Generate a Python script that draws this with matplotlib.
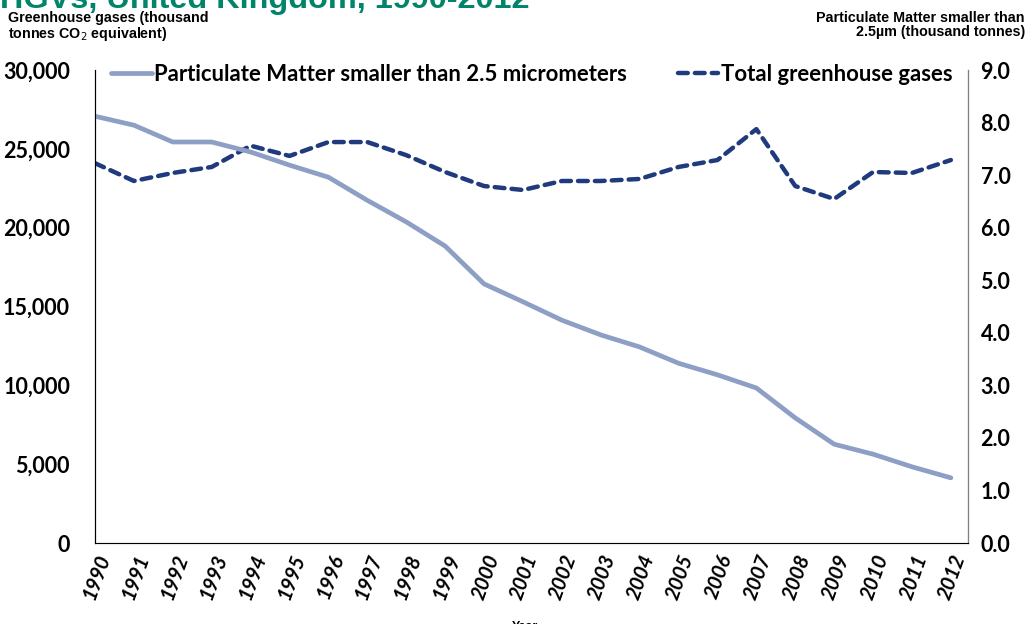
import numpy as np
import matplotlib
matplotlib.use("Agg")
import matplotlib.pyplot as plt
from matplotlib.ticker import FuncFormatter

years = list(range(1990, 2013))
ghg = [24090, 22960, 23470, 23850, 25200, 24550, 25430, 25430, 24600, 23530,
       22640, 22390, 22960, 22960, 23090, 23850, 24290, 26250, 22640, 21820,
       23530, 23470, 24290]
pm25 = [8.12, 7.95, 7.63, 7.63, 7.44, 7.19, 6.96, 6.52, 6.11, 5.65,
        4.93, 4.59, 4.24, 3.96, 3.73, 3.42, 3.20, 2.95, 2.38, 1.88,
        1.69, 1.45, 1.24]

PM_COLOR = "#8e9fc5"
GHG_COLOR = "#1f3b7d"
TICK_FONT = "Lato"

fig = plt.figure(figsize=(10.27, 6.24), dpi=100)
ax = fig.add_axes([95 / 1027, 1 - 543 / 624, (968 - 95) / 1027, (543 - 70) / 624])
ax2 = ax.twinx()

ax2.plot(years, pm25, color=PM_COLOR, lw=3.4, solid_capstyle="round",
         label="Particulate Matter smaller than 2.5 micrometers")
ax.plot(years, ghg, color=GHG_COLOR, lw=3.2, dashes=(2.2, 1.6), dash_capstyle="round",
        label="Total greenhouse gases")

ax.set_xlim(1990, 2012.44)
ax.set_ylim(0, 30000)
ax2.set_ylim(0, 9)
ax.set_yticks(np.arange(0, 30001, 5000))
ax2.set_yticks(np.arange(0, 9.01, 1))
ax.yaxis.set_major_formatter(FuncFormatter(lambda v, p: f"{v:,.0f}"))
ax2.yaxis.set_major_formatter(FuncFormatter(lambda v, p: f"{v:.1f}"))
ax.set_xticks(years)
ax.set_xticklabels([str(y) for y in years], rotation=70, ha="right",
                   rotation_mode="anchor", fontstyle="italic", fontweight="bold",
                   fontsize=14.5, family=TICK_FONT)

for a in (ax, ax2):
    a.spines["top"].set_visible(False)
    a.tick_params(length=0)
for lab in ax.get_yticklabels() + ax2.get_yticklabels():
    lab.set_fontweight("bold")
    lab.set_fontsize(15.5)
    lab.set_family(TICK_FONT)
ax.tick_params(axis="y", pad=18)
ax2.tick_params(axis="y", pad=9)
ax.tick_params(axis="x", pad=6)
ax2.spines["right"].set_color("#808080")
ax.spines["left"].set_color("black")
ax.spines["bottom"].set_color("#808080")

h1, l1 = ax2.get_legend_handles_labels()
h2, l2 = ax.get_legend_handles_labels()
leg = ax.legend(h1 + h2, l1 + l2, loc="upper center", bbox_to_anchor=(0.5, 1.055),
                ncol=2, frameon=False, handlelength=1.85, handletextpad=0.1,
                columnspacing=2.3, prop={"family": TICK_FONT, "weight": "bold", "size": 15.9})

fig.text(0.0, 1 - 8 / 624, "HGVs, United Kingdom, 1990-2012", color="#00856b",
         fontsize=23.3, fontweight="bold", family="Liberation Sans", va="baseline")
fig.text(8 / 1027, 1 - 11 / 624, "Greenhouse gases (thousand\ntonnes CO$_2$ equivalent)",
         fontsize=10.3, fontweight="bold", family="Liberation Sans", va="top", linespacing=1.0)
fig.text(1025 / 1027, 1 - 11 / 624, "Particulate Matter smaller than\n2.5\u00b5m (thousand tonnes)",
         fontsize=10.3, fontweight="bold", family="Liberation Sans", va="top", ha="right",
         multialignment="right", linespacing=1.0)
fig.text(525 / 1027, -0.005, "Year", fontsize=9, fontweight="bold",
         family="Liberation Sans", ha="center", va="center")

fig.savefig("out.png", dpi=100)
